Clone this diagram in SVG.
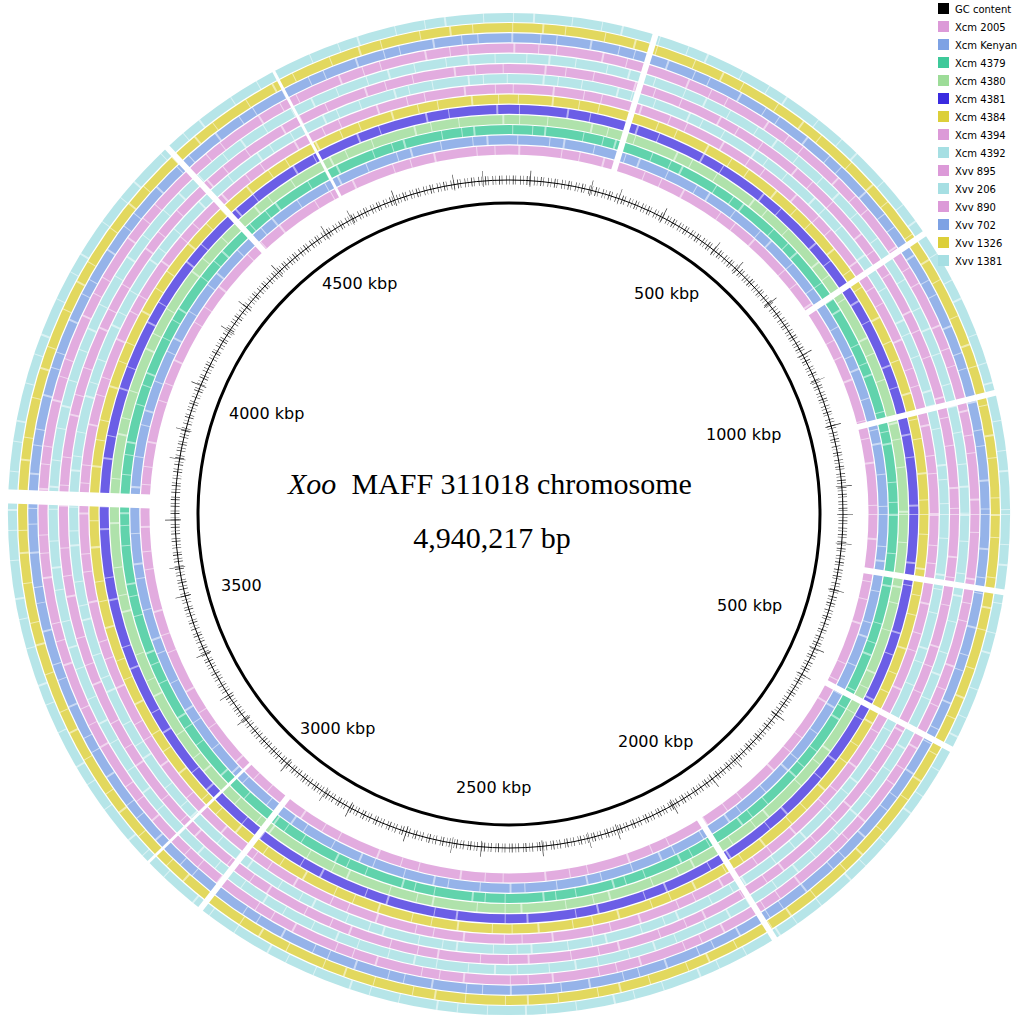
<svg xmlns="http://www.w3.org/2000/svg" width="1024" height="1024" viewBox="0 0 1024 1024">
<style>
.r{fill:none;stroke-width:9;opacity:0.82}
.w{fill:none;stroke:#fff;stroke-width:9.5;opacity:0.5}
.lab{font-family:"DejaVu Sans",sans-serif;font-size:16px;fill:#000}
.lg{font-family:"DejaVu Sans",sans-serif;font-size:10px;fill:#000}
.gap line{stroke:#fff;stroke-width:6}
</style>
<rect width="1024" height="1024" fill="#fff"/>
<g id="rings">
<circle class="r" cx="509" cy="514" r="364" stroke="#dc9ad8"/>
<circle class="r" cx="509" cy="514" r="374.2" stroke="#7ea2e4"/>
<circle class="r" cx="509" cy="514" r="384.4" stroke="#3ec99a"/>
<circle class="r" cx="509" cy="514" r="394.6" stroke="#9ddc98"/>
<circle class="r" cx="509" cy="514" r="404.8" stroke="#4a3be0"/>
<circle class="r" cx="509" cy="514" r="415" stroke="#dccf3a"/>
<circle class="r" cx="509" cy="514" r="425.2" stroke="#dc9ad8"/>
<circle class="r" cx="509" cy="514" r="435.4" stroke="#a6dfe3"/>
<circle class="r" cx="509" cy="514" r="445.6" stroke="#dc9ad8"/>
<circle class="r" cx="509" cy="514" r="455.8" stroke="#a6dfe3"/>
<circle class="r" cx="509" cy="514" r="466" stroke="#dc9ad8"/>
<circle class="r" cx="509" cy="514" r="476.2" stroke="#7ea2e4"/>
<circle class="r" cx="509" cy="514" r="486.4" stroke="#dccf3a"/>
<circle class="r" cx="509" cy="514" r="496.6" stroke="#a6dfe3"/>
</g>
<g id="texture">
<circle class="w" cx="509" cy="514" r="364" stroke-dasharray="1 23 2 41 1 17"/>
<circle class="w" cx="509" cy="514" r="374.2" stroke-dasharray="1 31 1 13 2 29"/>
<circle class="w" cx="509" cy="514" r="384.4" stroke-dasharray="2 37 1 19 1 11"/>
<circle class="w" cx="509" cy="514" r="394.6" stroke-dasharray="1 27 1 43 2 15"/>
<circle class="w" cx="509" cy="514" r="404.8" stroke-dasharray="1 47 2 21"/>
<circle class="w" cx="509" cy="514" r="415" stroke-dasharray="1 19 1 33 2 25"/>
<circle class="w" cx="509" cy="514" r="425.2" stroke-dasharray="2 29 1 17 1 39"/>
<circle class="w" cx="509" cy="514" r="435.4" stroke-dasharray="1 23 1 35 2 13"/>
<circle class="w" cx="509" cy="514" r="445.6" stroke-dasharray="1 41 2 19 1 27"/>
<circle class="w" cx="509" cy="514" r="455.8" stroke-dasharray="2 25 1 31 1 21"/>
<circle class="w" cx="509" cy="514" r="466" stroke-dasharray="1 17 1 45 2 23"/>
<circle class="w" cx="509" cy="514" r="476.2" stroke-dasharray="1 33 2 27 1 15"/>
<circle class="w" cx="509" cy="514" r="486.4" stroke-dasharray="2 21 1 39 1 29"/>
<circle class="w" cx="509" cy="514" r="496.6" stroke-dasharray="1 29 1 19 2 37"/>
</g>
<g class="gap" id="gaps">
<line x1="509" y1="156" x2="509" y2="8" transform="rotate(17 509 514)"/>
<line x1="509" y1="156" x2="509" y2="8" transform="rotate(56 509 514)"/>
<line x1="509" y1="156" x2="509" y2="8" transform="rotate(76 509 514)"/>
<line x1="509" y1="156" x2="509" y2="8" transform="rotate(99 509 514)"/>
<line x1="509" y1="156" x2="509" y2="8" transform="rotate(118 509 514)"/>
<line x1="509" y1="156" x2="509" y2="8" transform="rotate(148 509 514)"/>
<line x1="509" y1="156" x2="509" y2="8" transform="rotate(218 509 514)"/>
<line x1="509" y1="156" x2="509" y2="8" transform="rotate(226 509 514)" style="stroke-width:3"/>
<line x1="509" y1="156" x2="509" y2="8" transform="rotate(272 509 514)" style="stroke-width:14"/>
<line x1="509" y1="156" x2="509" y2="8" transform="rotate(317 509 514)"/>
<line x1="509" y1="156" x2="509" y2="8" transform="rotate(332 509 514)" style="stroke-width:3"/>
</g>
<g id="gc">
<circle cx="509" cy="514" r="334" fill="none" stroke="#000" stroke-width="1"/>
<circle cx="509" cy="514" r="334" fill="none" stroke="#000" stroke-width="9" stroke-dasharray="0.6 2.4 0.4 3.1 0.8 1.9 0.5 4.2" opacity="0.8"/>
<circle cx="509" cy="514" r="336" fill="none" stroke="#000" stroke-width="16" stroke-dasharray="0.6 29 0.5 47 0.7 61" opacity="0.8"/>
</g>
<g id="backbone">
<circle cx="509" cy="514" r="311" fill="none" stroke="#000" stroke-width="3"/>
</g>
<g id="labels">
<text class="lab" x="634" y="299">500 kbp</text>
<text class="lab" x="706" y="440">1000 kbp</text>
<text class="lab" x="717" y="611">500 kbp</text>
<text class="lab" x="618" y="747">2000 kbp</text>
<text class="lab" x="456" y="793">2500 kbp</text>
<text class="lab" x="300" y="734">3000 kbp</text>
<text class="lab" x="221" y="591">3500</text>
<text class="lab" x="229" y="419">4000 kbp</text>
<text class="lab" x="322" y="289">4500 kbp</text>
<text x="490" y="494" text-anchor="middle" font-family="Liberation Serif,serif" font-size="30" xml:space="preserve"><tspan font-style="italic">Xoo</tspan>  MAFF 311018 chromosome</text>
<text x="492" y="548" text-anchor="middle" font-family="Liberation Serif,serif" font-size="30">4,940,217 bp</text>
</g>
<g id="legend">
<rect x="938" y="3" width="11" height="11" fill="#000"/><text class="lg" x="955" y="13">GC content</text>
<rect x="938" y="21" width="11" height="11" fill="#dc9ad8"/><text class="lg" x="955" y="31">Xcm 2005</text>
<rect x="938" y="39" width="11" height="11" fill="#7ea2e4"/><text class="lg" x="955" y="49">Xcm Kenyan</text>
<rect x="938" y="57" width="11" height="11" fill="#3ec99a"/><text class="lg" x="955" y="67">Xcm 4379</text>
<rect x="938" y="75" width="11" height="11" fill="#9ddc98"/><text class="lg" x="955" y="85">Xcm 4380</text>
<rect x="938" y="93" width="11" height="11" fill="#3a2be0"/><text class="lg" x="955" y="103">Xcm 4381</text>
<rect x="938" y="111" width="11" height="11" fill="#dccf3a"/><text class="lg" x="955" y="121">Xcm 4384</text>
<rect x="938" y="129" width="11" height="11" fill="#dc9ad8"/><text class="lg" x="955" y="139">Xcm 4394</text>
<rect x="938" y="147" width="11" height="11" fill="#a6dfe3"/><text class="lg" x="955" y="157">Xcm 4392</text>
<rect x="938" y="165" width="11" height="11" fill="#dc9ad8"/><text class="lg" x="955" y="175">Xvv 895</text>
<rect x="938" y="183" width="11" height="11" fill="#a6dfe3"/><text class="lg" x="955" y="193">Xvv 206</text>
<rect x="938" y="201" width="11" height="11" fill="#dc9ad8"/><text class="lg" x="955" y="211">Xvv 890</text>
<rect x="938" y="219" width="11" height="11" fill="#7ea2e4"/><text class="lg" x="955" y="229">Xvv 702</text>
<rect x="938" y="237" width="11" height="11" fill="#dccf3a"/><text class="lg" x="955" y="247">Xvv 1326</text>
<rect x="938" y="255" width="11" height="11" fill="#a6dfe3"/><text class="lg" x="955" y="265">Xvv 1381</text>
</g>
</svg>
